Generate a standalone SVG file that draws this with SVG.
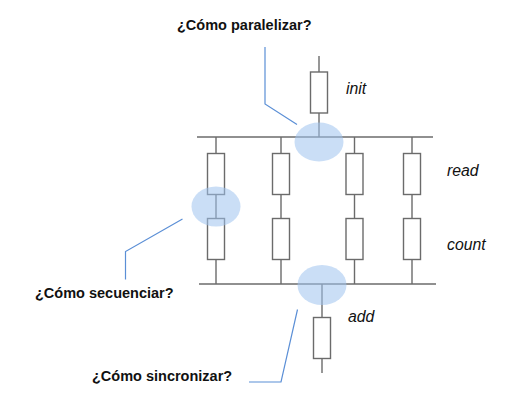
<svg xmlns="http://www.w3.org/2000/svg" width="518" height="414" viewBox="0 0 518 414">
<style>
.w{stroke:#6b6b6b;stroke-width:1.4;fill:none}
.b{stroke:#6b6b6b;stroke-width:1.4;fill:#ffffff}
.p{stroke:#5b8fd6;stroke-width:1.2;fill:none}
.e{fill:#9fc3ef;fill-opacity:0.55;stroke:none}
.q{font-family:"Liberation Sans",Arial,sans-serif;font-weight:bold;font-size:14.5px;fill:#111}
.l{font-family:"Liberation Sans",Arial,sans-serif;font-style:italic;font-size:15.8px;fill:#111}
</style>
<rect width="518" height="414" fill="#fff"/>
<g id="connectors">
<line class="w" x1="197" y1="137" x2="433" y2="137"/>
<line class="w" x1="199" y1="284" x2="436" y2="284"/>
<line class="w" x1="319" y1="56" x2="319" y2="72"/>
<line class="w" x1="319" y1="113" x2="319" y2="137"/>
<line class="w" x1="322" y1="284" x2="322" y2="317"/>
<line class="w" x1="322" y1="358" x2="322" y2="373"/>
<line class="w" x1="216" y1="137" x2="216" y2="284"/>
<line class="w" x1="281" y1="137" x2="281" y2="284"/>
<line class="w" x1="354.5" y1="137" x2="354.5" y2="284"/>
<line class="w" x1="412" y1="137" x2="412" y2="284"/>
</g>
<g id="init"><rect class="b" x="310.5" y="72" width="17" height="41"/><text class="l" x="346" y="94">init</text></g>
<g id="read">
<rect class="b" x="207.5" y="153.5" width="17" height="41"/>
<rect class="b" x="272.5" y="153.5" width="17" height="41"/>
<rect class="b" x="346" y="153.5" width="17" height="41"/>
<rect class="b" x="403.5" y="153.5" width="17" height="41"/>
<text class="l" x="447" y="175.5">read</text>
</g>
<g id="count">
<rect class="b" x="207.5" y="218.5" width="17" height="41"/>
<rect class="b" x="272.5" y="218.5" width="17" height="41"/>
<rect class="b" x="346" y="218.5" width="17" height="41"/>
<rect class="b" x="403.5" y="218.5" width="17" height="41"/>
<text class="l" x="447" y="250">count</text>
</g>
<g id="add"><rect class="b" x="313.5" y="317.5" width="17" height="41"/><text class="l" x="348" y="322">add</text></g>
<g id="paralelizar">
<ellipse class="e" cx="319" cy="142" rx="24.5" ry="19.5"/>
<polyline class="p" points="265,47 265,104 297,124.5"/>
<text class="q" x="177" y="30">¿Cómo paralelizar?</text>
</g>
<g id="secuenciar">
<ellipse class="e" cx="216" cy="206.5" rx="24.5" ry="20"/>
<polyline class="p" points="182.5,219 125.5,251.5 125.5,279.5"/>
<text class="q" x="35" y="298">¿Cómo secuenciar?</text>
</g>
<g id="sincronizar">
<ellipse class="e" cx="322" cy="285" rx="24.5" ry="20"/>
<polyline class="p" points="297.5,309.5 281,382 249,382"/>
<text class="q" x="92" y="381">¿Cómo sincronizar?</text>
</g>
</svg>
